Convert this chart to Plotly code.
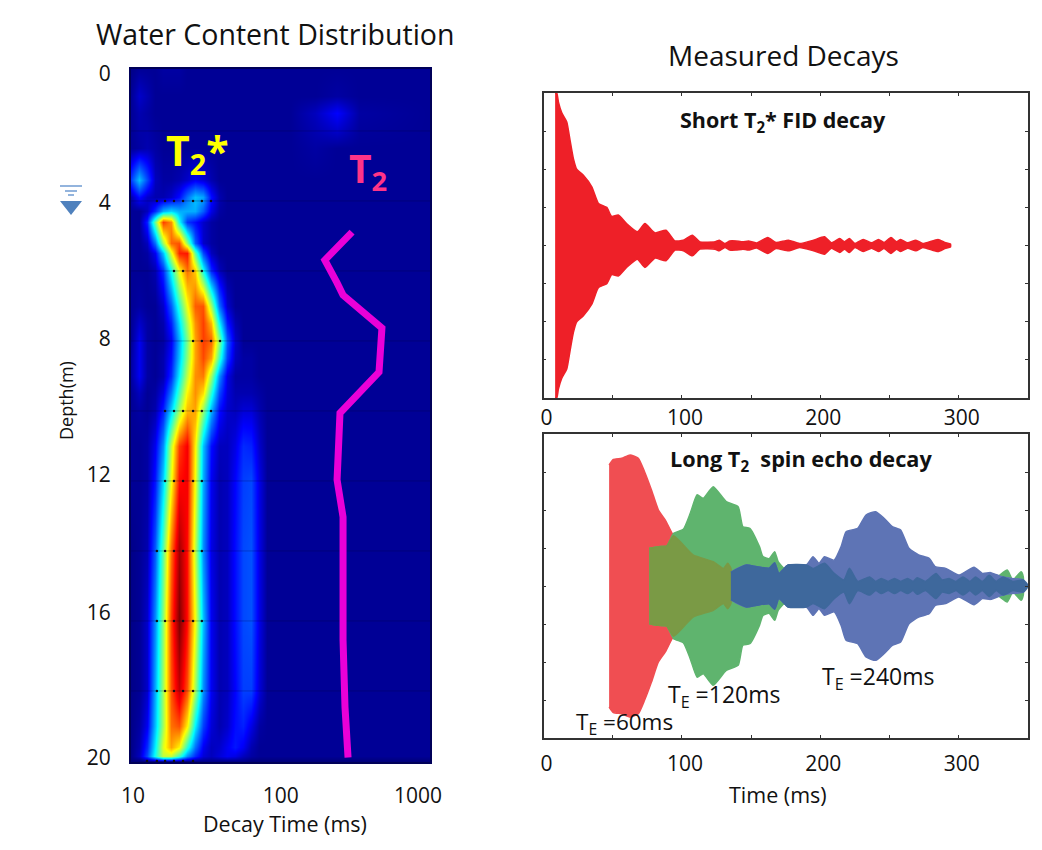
import plotly.graph_objects as go

W, H = 1042, 850
FONT = "Open Sans"

# ---- Water content map -------------------------------------------------
decay_times = [10, 11.3, 12.8, 14.5, 16.4, 18.5, 20.9, 23.7, 26.8, 30.3, 34.3, 38.8,
               43.9, 49.6, 56, 63.5, 71.8, 81.2, 115, 170, 238, 336, 1000]
depths = [0.2, 1, 1.5, 2.5, 3.4, 3.9, 4.3, 4.6, 5.2, 5.5, 6, 7, 7.5, 8, 8.5, 9, 9.5, 10, 11, 12, 14, 16, 18, 19, 19.6, 19.85, 20]
water = [
 [.02,.03,.03,.03,.04,.04,.04,.03,.03,.03,.03,.03,.03,.03,.03,.03,.03,.03,.03,.03,.03,.03,.03],
 [.03,.07,.05,.03,.03,.03,.03,.03,.03,.03,.03,.03,.03,.03,.03,.03,.03,.03,.03,.03,.04,.03,.03],
 [.03,.05,.04,.03,.03,.03,.03,.03,.03,.03,.03,.03,.03,.03,.03,.03,.03,.03,.03,.06,.11,.04,.03],
 [.03,.04,.05,.04,.03,.03,.03,.03,.03,.03,.03,.03,.03,.03,.03,.03,.03,.03,.03,.04,.03,.03,.03],
 [.17,.30,.18,.06,.04,.04,.05,.07,.10,.08,.05,.03,.03,.03,.03,.03,.03,.03,.03,.03,.03,.03,.03],
 [.05,.12,.07,.05,.05,.07,.12,.22,.30,.27,.12,.05,.03,.03,.03,.03,.03,.03,.03,.03,.03,.03,.03],
 [.03,.03,.06,.15,.28,.32,.28,.28,.28,.20,.09,.04,.03,.03,.03,.03,.03,.03,.03,.03,.03,.03,.03],
 [.03,.03,.14,.47,.80,.72,.37,.16,.12,.07,.04,.03,.03,.03,.03,.03,.03,.03,.03,.03,.03,.03,.03],
 [.03,.03,.06,.22,.52,.76,.78,.50,.20,.07,.04,.03,.03,.03,.03,.03,.03,.03,.03,.03,.03,.03,.03],
 [.03,.03,.04,.10,.30,.58,.83,.84,.45,.18,.06,.03,.03,.03,.03,.03,.03,.03,.03,.03,.03,.03,.03],
 [.03,.03,.03,.05,.15,.37,.60,.75,.66,.38,.15,.06,.03,.03,.03,.03,.03,.03,.03,.03,.03,.03,.03],
 [.03,.04,.03,.03,.07,.20,.40,.60,.77,.78,.52,.22,.07,.03,.03,.03,.03,.03,.03,.03,.03,.03,.03],
 [.03,.07,.04,.03,.05,.14,.33,.53,.72,.80,.68,.36,.13,.05,.03,.03,.03,.03,.03,.03,.03,.03,.03],
 [.03,.10,.04,.03,.04,.10,.28,.48,.70,.80,.76,.50,.20,.07,.03,.03,.03,.03,.03,.03,.03,.03,.03],
 [.04,.10,.04,.03,.05,.12,.30,.50,.70,.79,.70,.42,.17,.06,.04,.04,.03,.03,.03,.03,.03,.03,.03],
 [.04,.10,.04,.03,.05,.15,.35,.55,.72,.74,.52,.25,.09,.04,.04,.04,.03,.03,.03,.03,.03,.03,.03],
 [.03,.06,.03,.04,.09,.23,.43,.62,.72,.64,.40,.18,.08,.05,.05,.05,.04,.03,.03,.03,.03,.03,.03],
 [.03,.04,.03,.05,.14,.32,.52,.68,.70,.50,.28,.12,.07,.06,.08,.08,.05,.03,.03,.03,.03,.03,.03],
 [.03,.03,.04,.10,.25,.55,.80,.87,.62,.30,.12,.06,.06,.09,.15,.14,.07,.03,.03,.03,.03,.03,.03],
 [.03,.03,.04,.13,.32,.60,.85,.87,.60,.28,.10,.05,.06,.11,.17,.18,.09,.03,.03,.03,.03,.03,.03],
 [.02,.03,.05,.20,.45,.75,.96,.85,.55,.25,.09,.05,.06,.12,.18,.19,.09,.03,.03,.03,.03,.03,.03],
 [.02,.03,.07,.25,.50,.80,1.0,.85,.60,.30,.10,.05,.06,.12,.18,.19,.09,.03,.03,.03,.03,.03,.03],
 [.02,.03,.07,.28,.52,.78,.92,.78,.52,.25,.10,.05,.06,.11,.17,.17,.08,.03,.03,.03,.03,.03,.03],
 [.02,.04,.10,.30,.52,.75,.78,.62,.35,.17,.08,.05,.07,.12,.14,.09,.04,.03,.03,.03,.03,.03,.03],
 [.02,.05,.15,.35,.58,.70,.62,.40,.22,.10,.06,.07,.10,.13,.10,.05,.03,.03,.03,.03,.03,.03,.03],
 [.02,.06,.18,.38,.55,.55,.42,.25,.15,.08,.06,.08,.10,.09,.06,.04,.03,.03,.03,.03,.03,.03,.03],
 [.01,.01,.02,.03,.04,.04,.03,.02,.02,.02,.02,.02,.02,.02,.02,.01,.01,.01,.01,.01,.01,.01,.01],
]
jet = [[0, "rgb(0,0,110)"], [0.11, "rgb(0,0,255)"], [0.36, "rgb(0,255,255)"],
       [0.61, "rgb(255,255,0)"], [0.86, "rgb(255,0,0)"], [1, "rgb(128,0,0)"]]

t2_times = [301, 198, 239, 262, 477, 456, 250, 243, 239, 262, 262, 270, 283]
t2_depths = [4.89, 5.69, 6.34, 6.69, 7.63, 8.89, 10.06, 11.1, 11.97, 13.03, 16.54, 18.46, 19.9]

grid_depths = [2, 4, 6, 8, 10, 12, 14, 16, 18]
dot_rows = {
    4: [14.9, 16.9, 19.4, 22.3, 26, 29.8, 34.3],
    6: [19.4, 22.3, 26, 29.8],
    8: [26, 29.8, 34.3, 39.4],
    10: [16.9, 19.4, 22.3, 26, 29.8, 34.3],
    12: [16.9, 19.4, 22.3, 26, 29.8],
    14: [14.9, 16.9, 19.4, 22.3, 26, 29.8],
    16: [14.9, 16.9, 19.4, 22.3, 26, 29.8],
    18: [14.9, 16.9, 19.4, 22.3, 26, 29.8],
    20: [12.8, 14.9, 16.9, 19.4, 22.3, 26],
}
depth_tick_pos = [0.37, 4.06, 7.94, 11.83, 15.77, 19.91]
depth_tick_text = ["0", "4", "8", "12", "16", "20"]
time_tick_pos = [10.3, 100.5, 832]
time_tick_text = ["10", "100", "1000"]

# ---- FID decay ---------------------------------------------------------
fid_t = [8.4, 9.6, 10.8, 13.2, 16.8, 19.2, 21.6, 24, 28.8, 34.9, 39.7, 45.7, 49.3, 54, 60, 67.8, 73.3,
         80.5, 88.5, 95, 101, 107.5, 113, 124, 127, 131, 134.6, 139, 144, 148, 154, 162, 168, 177, 185,
         195, 203, 208, 214, 217.5, 221, 225, 231, 237, 242, 246, 251, 255, 258, 263, 269, 274, 285, 290, 294]
fid_a = [1.0, 1.0, .94, .87, .81, .69, .57, .50, .46, .385, .276, .25, .19, .20, .144, .09, .144,
         .083, .10, .03, .035, .068, .024, .024, .035, .013, .03, .03, .024, .03, .017, .052, .02, .035, .013,
         .035, .057, .018, .046, .024, .046, .013, .04, .018, .04, .02, .052, .024, .04, .018, .035, .013, .04, .02, .01]

# ---- Spin echo decays --------------------------------------------------
red_t = [47.4, 50.5, 56.5, 62.5, 68.5, 73, 78, 83, 88, 94, 108, 122.6, 130, 133, 139.4, 147, 170, 220, 280, 345]
red_a = [.796, .833, .84, .862, .84, .752, .632, .50, .434, .33, .204, .16, .116, .149, .116, .09, .06, .03, .03, .03]
green_t = [76.4, 83, 89, 94, 101, 106, 111, 115.4, 122.6, 132, 140.6, 144, 149, 156, 158.5, 163, 167, 169.5,
           174, 178, 194, 207, 219, 231, 255, 279, 303, 326, 335, 339, 345, 346.6]
green_a = [.248, .259, .263, .346, .373, .478, .60, .577, .653, .555, .522, .39, .38, .259, .193, .18, .226, .16,
           .116, .14, .116, .083, .061, .05, .05, .061, .05, .05, .105, .04, .094, .06]
blue_t = [135.4, 139, 146.6, 154, 163, 167, 170, 176.7, 190, 194.7, 199, 203, 210, 215, 218.6, 227, 233, 240,
          246, 252, 258, 264, 271, 278.6, 283, 290.5, 300, 311, 317, 323, 331, 338, 346.6]
blue_a = [.09, .11, .138, .127, .117, .153, .083, .138, .138, .193, .15, .193, .17, .259, .357, .38, .467, .489,
          .445, .39, .368, .248, .204, .182, .127, .116, .072, .123, .083, .088, .061, .05, .04]
olive_t = [76.4, 83, 89, 94, 108, 122.6, 130, 133, 135.4]
olive_a = [.248, .259, .263, .33, .204, .16, .116, .149, .116]
steel_t = [135.4, 146.6, 154, 163, 167, 170, 176.7, 190, 194.7, 203, 210, 217, 221, 227, 235.6, 240, 244, 249,
           253.6, 258, 263, 267, 270, 276, 283.6, 288, 293, 298, 303, 308, 312, 317, 322, 327, 332, 339, 346.6, 350]
steel_a = [.09, .138, .127, .117, .153, .083, .138, .138, .115, .149, .083, .04, .116, .03, .06, .03, .05, .03,
           .05, .03, .05, .03, .055, .03, .083, .04, .05, .03, .06, .03, .06, .03, .07, .03, .06, .03, .04, .004]

axis_ticks = [0, 50, 100, 150, 200, 250, 300]
axis_tick_text = ["0", "", "100", "", "200", "", "300"]
amp_ticks = [-.75, -.5, -.25, 0, .25, .5, .75]

FID_RED = "#EE2028"
RED = "#F04E52"
GREEN = "#5FB46E"
BLUE = "#5E74B5"
OLIVE = "#7A9A45"
STEEL = "#3E689C"


def band(ts, amps, color, xaxis, yaxis):
    return go.Scatter(x=ts + ts[::-1], y=amps + [-a for a in amps[::-1]], mode="lines",
                      fill="toself", fillcolor=color,
                      line=dict(color=color, width=1.5, shape="spline", smoothing=0.5),
                      xaxis=xaxis, yaxis=yaxis, hoverinfo="skip", showlegend=False)


fig = go.Figure()
fig.add_trace(go.Heatmap(x=decay_times, y=depths, z=water, zmin=0, zmax=1, colorscale=jet,
                         zsmooth="best", showscale=False, xaxis="x", yaxis="y"))
gx, gy = [], []
for d in grid_depths:
    gx += [10, 1200, None]
    gy += [d, d, None]
fig.add_trace(go.Scatter(x=gx, y=gy, mode="lines", line=dict(color="rgba(0,0,50,.25)", width=1),
                         xaxis="x", yaxis="y", showlegend=False, hoverinfo="skip"))
dx, dy = [], []
for d, ts in dot_rows.items():
    dx += ts
    dy += [d] * len(ts)
fig.add_trace(go.Scatter(x=dx, y=dy, mode="markers", marker=dict(color="#101018", size=2.5),
                         xaxis="x", yaxis="y", showlegend=False, hoverinfo="skip"))
fig.add_trace(go.Scatter(x=t2_times, y=t2_depths, mode="lines", line=dict(color="#EA00D8", width=7),
                         xaxis="x", yaxis="y", showlegend=False, hoverinfo="skip"))
fig.add_trace(band(fid_t, fid_a, FID_RED, "x2", "y2"))
fig.add_trace(band(red_t, red_a, RED, "x3", "y3"))
fig.add_trace(band(green_t, green_a, GREEN, "x3", "y3"))
fig.add_trace(band(olive_t, olive_a, OLIVE, "x3", "y3"))
fig.add_trace(band(blue_t, blue_a, BLUE, "x3", "y3"))
fig.add_trace(band(steel_t, steel_a, STEEL, "x3", "y3"))


def px(v):
    return v / W


def py(v):
    return 1 - v / H


def note(text, x, y, size, color="#111", bold=False, angle=0):
    s = f"<b>{text}</b>" if bold else text
    return dict(text=s, x=px(x), y=py(y), xref="paper", yref="paper", showarrow=False, textangle=angle,
                xanchor="center", yanchor="middle", font=dict(family=FONT, size=size, color=color))


frame = dict(showline=True, linecolor="#333", linewidth=1.5, mirror="allticks", ticks="inside", ticklen=3,
             tickcolor="#333", showgrid=False, zeroline=False, automargin=False)

layout = dict(
    width=W, height=H, margin=dict(l=0, r=0, t=0, b=0, pad=0, autoexpand=False),
    paper_bgcolor="white", plot_bgcolor="white",
    showlegend=False, font=dict(family=FONT, color="#111"),
    xaxis=dict(type="log", domain=[px(131), px(430)], range=[1, 3], anchor="y", showgrid=False, zeroline=False,
               tickvals=time_tick_pos, ticktext=time_tick_text, ticks="outside", ticklen=14,
               tickcolor="rgba(0,0,0,0)", tickfont=dict(size=21), showline=True, mirror=True,
               linecolor="#000058", linewidth=2, automargin=False),
    yaxis=dict(domain=[py(762), py(69)], range=[20.03, 0.23], anchor="x", showgrid=False, zeroline=False,
               tickvals=depth_tick_pos, ticktext=depth_tick_text, ticks="outside", ticklen=14,
               tickcolor="rgba(0,0,0,0)", tickfont=dict(size=21), showline=True, mirror=True,
               linecolor="#000058", linewidth=2, automargin=False),
    xaxis2=dict(frame, domain=[px(543.5), px(1028)], range=[0, 350], anchor="y2", tickvals=axis_ticks,
                ticktext=axis_tick_text, tickfont=dict(size=21), ticklabelshift=3, ticklabelstandoff=0),
    yaxis2=dict(frame, domain=[py(398), py(93)], range=[-1, 1], anchor="x2", tickvals=amp_ticks, showticklabels=False),
    xaxis3=dict(frame, domain=[px(543.5), px(1028)], range=[0, 350], anchor="y3", tickvals=axis_ticks,
                ticktext=axis_tick_text, tickfont=dict(size=21), ticklabelshift=3, ticklabelstandoff=6),
    yaxis3=dict(frame, domain=[py(738), py(434)], range=[-1, 1], anchor="x3", tickvals=amp_ticks, showticklabels=False),
    annotations=[
        note("Water Content Distribution", 275, 34, 28.5),
        note("Measured Decays", 783, 55, 28),
        note("Short T<sub>2</sub>* FID decay", 783, 121, 21.5, bold=True),
        note("Long T<sub>2</sub>  spin echo decay", 800.5, 460, 21.7, bold=True),
        note("T<sub>2</sub>*", 197, 152, 41, color="#FFFF00", bold=True),
        note("T<sub>2</sub>", 368, 170, 39, color="#FF3488", bold=True),
        note("Depth(m)", 66, 401, 18, angle=-90),
        note("Decay Time (ms)", 285, 823, 21.5),
        note("Time (ms)", 778, 794, 21.5),
        note("T<sub>E</sub> =60ms", 624, 723, 22.5),
        note("T<sub>E</sub> =120ms", 724, 695, 23),
        note("T<sub>E</sub> =240ms", 878, 677, 23),
    ],
    shapes=[
        dict(type="line", xref="paper", yref="paper", x0=px(60), x1=px(82), y0=py(186), y1=py(186),
             line=dict(color="#6F9BD2", width=1.5)),
        dict(type="line", xref="paper", yref="paper", x0=px(65), x1=px(77), y0=py(191), y1=py(191),
             line=dict(color="#6F9BD2", width=1.5)),
        dict(type="line", xref="paper", yref="paper", x0=px(68), x1=px(74), y0=py(195), y1=py(195),
             line=dict(color="#6F9BD2", width=1.5)),
        dict(type="path", xref="paper", yref="paper", fillcolor="#4F81BD", line=dict(width=0),
             path=f"M {px(60)} {py(201)} L {px(82)} {py(201)} L {px(71)} {py(215)} Z"),
    ],
)
fig.update_layout(**layout)
fig.write_html("out.html", config={"displayModeBar": False},
               post_script="document.body.style.margin='0';")
